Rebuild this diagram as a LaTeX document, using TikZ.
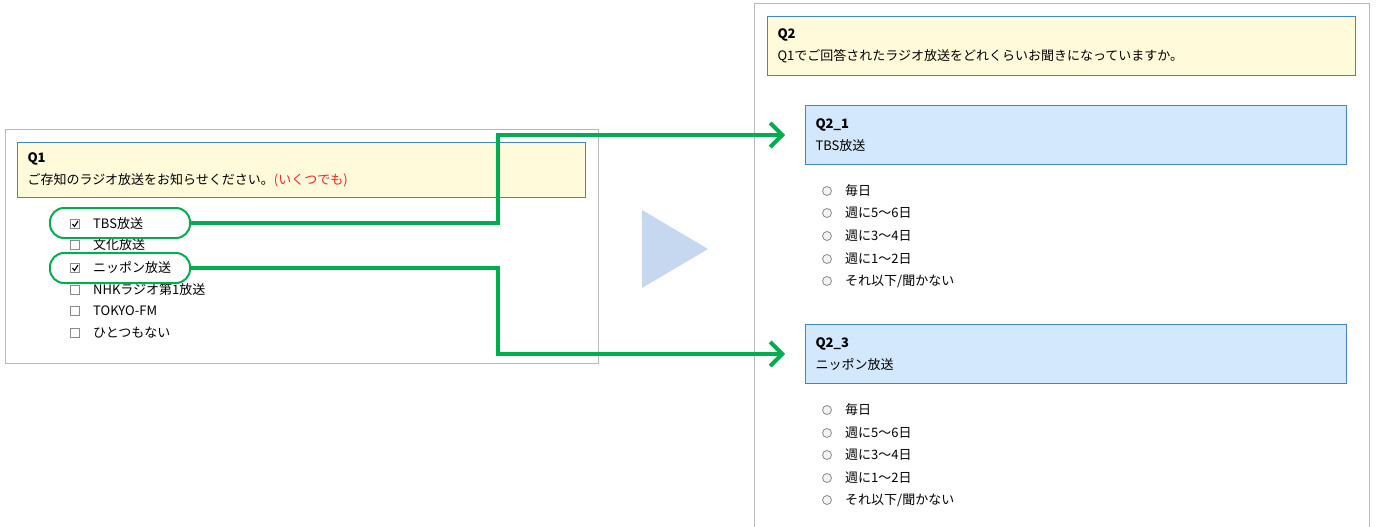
\documentclass[tikz,border=0pt]{standalone}
\usepackage{fontspec}
\setmainfont{Noto Sans CJK JP}
\usetikzlibrary{arrows.meta,positioning}
\definecolor{qyellow}{HTML}{FFFBDA}
\definecolor{qborder}{HTML}{3F86CF}
\definecolor{subfill}{HTML}{D3E8FC}
\definecolor{framegray}{HTML}{B9B9B9}
\definecolor{markgreen}{HTML}{00AE4F}
\definecolor{playblue}{HTML}{C5D8F0}
\definecolor{boxgray}{HTML}{8A8A8A}
\definecolor{hintred}{HTML}{FF2020}
\tikzset{
  qbox/.style={draw=qborder, fill=qyellow, line width=1pt, anchor=north west,
    inner xsep=10pt, inner ysep=0pt, align=left, text width=#1,
    font=\fontsize{13}{21.5}\selectfont},
  subbox/.style={qbox=#1, fill=subfill},
  chk/.style={draw=boxgray, fill=white, line width=.8pt, minimum size=9pt,
    inner sep=0pt},
  radio/.style={circle, draw=boxgray, fill=white!95!black, line width=.8pt,
    minimum size=9pt, inner sep=0pt},
  opt/.style={anchor=west, inner sep=0pt, font=\fontsize{13}{14}\selectfont},
  markbox/.style={draw=markgreen, line width=2pt, rounded corners=14pt,
    minimum width=140pt, minimum height=30pt},
  link/.style={draw=markgreen, line width=4pt,
    -{Straight Barb[length=12pt,width=24pt,line width=4pt]}, shorten >=20pt},
}
\newcommand{\tickmark}[1]{\draw[line width=1.1pt] ([xshift=-2.5pt,yshift=0pt]#1.center)
  -- ([xshift=-.5pt,yshift=-2.5pt]#1.center) -- ([xshift=3pt,yshift=3pt]#1.center);}
\begin{document}
\begin{tikzpicture}[x=1pt,y=-1pt]
\useasboundingbox (0,0) rectangle (1376,527);

% left page: Q1
\draw[framegray, line width=1pt] (5,129) rectangle (598,363);
\node[qbox=548pt, minimum height=55pt] (q1) at (17,142)
  {\textbf{Q1}\\ご存知のラジオ放送をお知らせください。\textcolor{hintred}{(いくつでも)}};
\foreach \y/\name/\txt in {224/c1/TBS放送, 245/c2/文化放送, 268/c3/ニッポン放送,
    290/c4/NHKラジオ第1放送, 311/c5/TOKYO-FM, 333/c6/ひとつもない} {
  \node[chk] (\name) at (75,\y) {};
  \node[opt] (\name txt) at (93,\y) {\txt};
}
\tickmark{c1}
\tickmark{c3}
\node[markbox] (tbsmark) at (120,223) {};
\node[markbox] (nipmark) at (120,268) {};

% play triangle
\fill[playblue] (642,210) -- (708,249) -- (642,288) -- cycle;

% right page: Q2
\draw[framegray, line width=1pt] (754,530) |- (1369,4) -- (1369,530);
\node[qbox=568pt, minimum height=59pt] (q2) at (767,16)
  {\textbf{Q2}\\Q1でご回答されたラジオ放送をどれくらいお聞きになっていますか。};
\node[subbox=521pt, minimum height=59pt] (q21) at (805,105)
  {\textbf{Q2\_1}\\TBS放送};
\node[subbox=521pt, minimum height=59pt] (q23) at (805,324)
  {\textbf{Q2\_3}\\ニッポン放送};
\foreach \y/\name/\txt in {191/a1/毎日, 213/a2/週に5〜6日, 236/a3/週に3〜4日,
    259/a4/週に1〜2日, 281/a5/{それ以下/聞かない}} {
  \node[radio] (\name) at (827,\y) {};
  \node[opt] (\name txt) at (845,\y) {\txt};
}
\foreach \y/\name/\txt in {410/b1/毎日, 433/b2/週に5〜6日, 455/b3/週に3〜4日,
    478/b4/週に1〜2日, 500/b5/{それ以下/聞かない}} {
  \node[radio] (\name) at (827,\y) {};
  \node[opt] (\name txt) at (845,\y) {\txt};
}

% links
\draw[link] (tbsmark.east) -- ++(307,0) |- (q21.west);
\draw[link] (nipmark.east) -- ++(307,0) |- (q23.west);
\end{tikzpicture}
\end{document}
